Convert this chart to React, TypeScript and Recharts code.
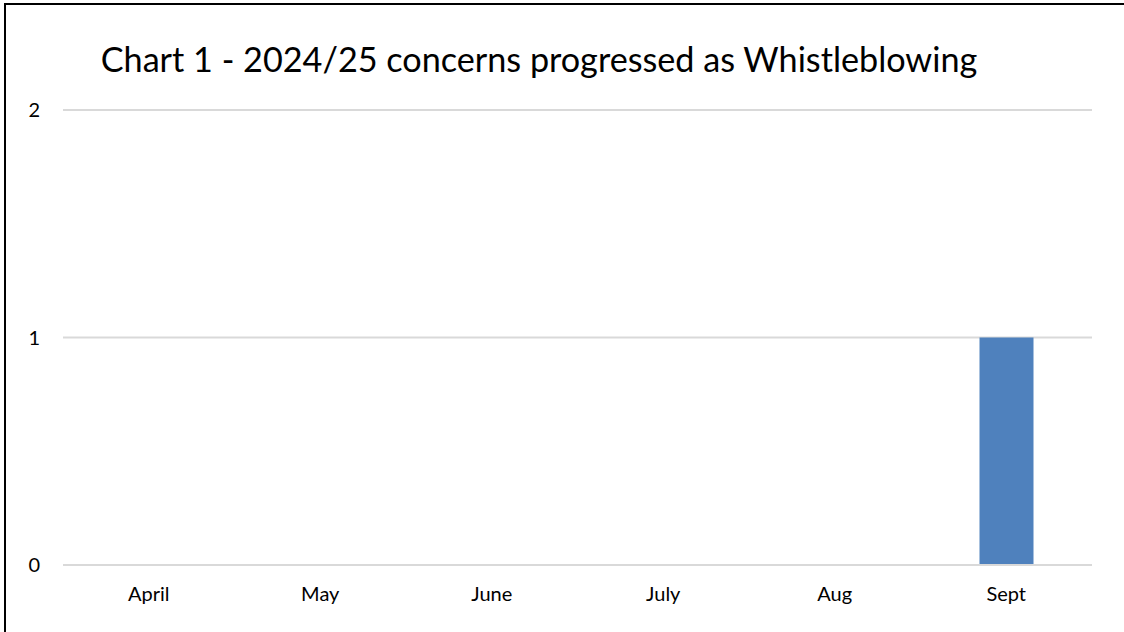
import { Bar, BarChart, CartesianGrid, XAxis, YAxis } from "recharts";

const months = ["April", "May", "June", "July", "Aug", "Sept"];
const concerns = [0, 0, 0, 0, 0, 1];
const yTicks = [0, 1, 2];

const data = months.map((month, i) => ({ month, concerns: concerns[i] }));

const FONT = "Lato, 'Open Sans', sans-serif";

export default function App() {
  return (
    <div
      style={{
        position: "fixed",
        left: 0,
        top: 0,
        width: 1124,
        height: 632,
        background: "#fff",
        overflow: "hidden",
        fontFamily: FONT,
      }}
    >
      {/* frame: only the left and top edges show in the shot */}
      <div style={{ position: "absolute", left: 4, top: 3, width: 1120, height: 2, background: "#000" }} />
      <div style={{ position: "absolute", left: 4, top: 3, width: 2, height: 629, background: "#000" }} />
      <div
        style={{
          position: "absolute",
          left: 0,
          width: 1078,
          top: 39,
          textAlign: "center",
          fontSize: 34.2,
          lineHeight: "40px",
          color: "#000",
        }}
      >
        Chart 1 - 2024/25 concerns progressed as Whistleblowing
      </div>
      <div style={{ position: "absolute", left: 0, top: 0 }}>
        <BarChart
          width={1124}
          height={632}
          data={data}
          margin={{ top: 110, right: 32, left: 0, bottom: 0 }}
        >
          <CartesianGrid vertical={false} stroke="#d9d9d9" strokeWidth={2} />
          <XAxis
            dataKey="month"
            height={67}
            tickLine={false}
            axisLine={{ stroke: "#d9d9d9", strokeWidth: 2 }}
            tickSize={0}
            tickMargin={22}
            tick={{ fontSize: 20, fill: "#000", fontFamily: FONT }}
          />
          <YAxis
            width={63}
            domain={[0, 2]}
            ticks={yTicks}
            axisLine={false}
            tickLine={false}
            tickSize={0}
            tickMargin={23}
            tick={{ fontSize: 20, fill: "#000", fontFamily: FONT }}
          />
          <Bar dataKey="concerns" fill="#4f81bd" barSize={54} isAnimationActive={false} />
        </BarChart>
      </div>
    </div>
  );
}
